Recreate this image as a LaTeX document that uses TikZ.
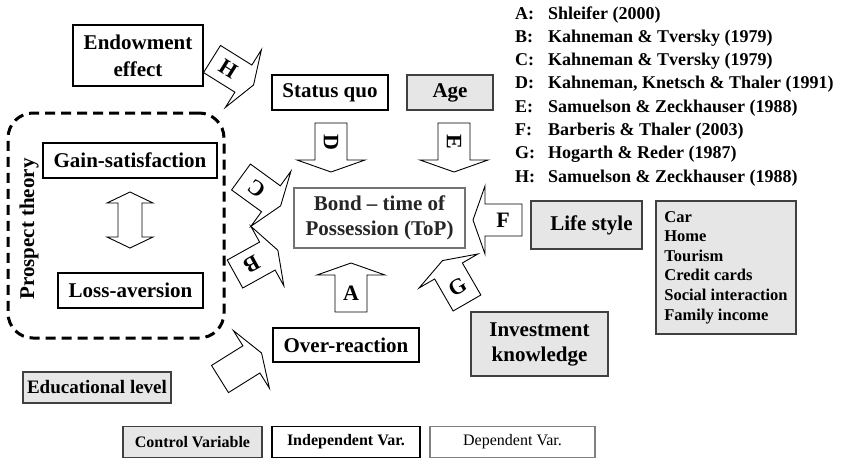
\documentclass[tikz,border=0pt]{standalone}
\usepackage{fontspec}
\setmainfont{Liberation Serif}
\definecolor{ctrlgray}{HTML}{E6E6E6}
\tikzset{
  lbl/.style={font=\fontsize{21}{25}\selectfont\bfseries, align=center, inner sep=0pt},
  box/.style={lbl, draw=black, line width=1.1pt, fill=white},
  ctrl/.style={lbl, draw=black!75, line width=1.1pt, fill=ctrlgray},
  depbox/.style={lbl, draw=black!50, line width=1.1pt, fill=white},
  barrowline/.style={draw=black, line width=0.9pt, fill=white, line join=miter},
  barrowlabel/.style={font=\fontsize{22}{22}\selectfont\bfseries, inner sep=0pt},
  cite/.style={anchor=base west, inner sep=0pt, font=\fontsize{18}{18}\selectfont\bfseries},
  legendfont/.style={font=\fontsize{16}{18}\selectfont\bfseries},
}
% block arrow outline: tail centre, direction, name of label coordinate
\newcommand\blockshape[3]{%
  \begin{scope}[shift={#1}, rotate=#2]
    \draw[barrowline] (0,-16) -- (37,-16) -- (37,-34) -- (49,0) -- (37,34) -- (37,16) -- (0,16) -- cycle;
    \coordinate (#3) at (19,0);
  \end{scope}}
% labelled block arrow: name, tail centre, direction, text rotation, label
\newcommand\blockarrow[5]{%
  \blockshape{#2}{#3}{#1c}
  \node[barrowlabel, rotate=#4] (#1) at (#1c) {#5};}
\begin{document}
\begin{tikzpicture}[x=1pt,y=-1pt]
\useasboundingbox (0,0) rectangle (850,472);

% prospect theory group
\node[draw=black, line width=3pt, dash pattern=on 10pt off 6pt, rounded corners=25pt,
      minimum width=216pt, minimum height=225pt, inner sep=0pt] (prospect) at (116,225.5) {};
\node[lbl, rotate=90] (ptlabel) at (29,229) {Prospect theory};
\node[box, minimum width=174pt, minimum height=35pt] (gain) at (130,160.5) {Gain-satisfaction};
\node[box, minimum width=145pt, minimum height=35pt] (loss) at (130.5,290.5) {Loss-aversion};
\draw[barrowline] (118,203) -- (107,203) -- (130,192) -- (153,203) -- (142,203) -- (142,237)
      -- (153,237) -- (130,248) -- (107,237) -- (118,237) -- cycle;

% boxes
\node[box, font=\fontsize{21}{27}\selectfont\bfseries, minimum width=130pt, minimum height=61pt] (endow) at (138,55.5) {Endowment\\effect};
\node[box, minimum width=116pt, minimum height=35pt] (status) at (330,92.5) {Status quo};
\node[ctrl, minimum width=86pt, minimum height=35pt] (age) at (450,92.5) {Age};
\node[lbl, draw=black!55, line width=1.2pt, fill=white, text=black!85, minimum width=171pt, minimum height=60pt] (top) at (379.5,218) {Bond – time of\\Possession (ToP)};
\node[ctrl, minimum width=111pt, minimum height=48pt] (life) at (586.5,225) {\hspace*{10pt}Life style};
\node[ctrl, minimum width=140pt, minimum height=133pt, align=left,
      font=\fontsize{16.5}{19.6}\selectfont\bfseries] (items) at (726,267.5)
      {Car\\Home\\Tourism\\Credit cards\\Social interaction\\Family income};
\node[ctrl, minimum width=137pt, minimum height=64pt] (invest) at (539.5,344) {Investment\\knowledge};
\node[box, minimum width=146pt, minimum height=34pt] (over) at (346,345) {Over-reaction};
\node[ctrl, font=\fontsize{19}{22}\selectfont\bfseries, minimum width=148pt, minimum height=31pt] (edu) at (97,387.5) {Educational level};

% block arrows
\blockarrow{arrH}{(212,59)}{-32}{-32}{H}
\blockarrow{arrD}{(331,123)}{-90}{-90}{D}
\blockarrow{arrE}{(454,123)}{-90}{-90}{E}
\blockarrow{arrC}{(241,177)}{-36}{144}{C}
\blockarrow{arrB}{(235,274)}{29}{-151}{B}
\blockarrow{arrA}{(351,312)}{90}{0}{A}
\blockarrow{arrG}{(467,303)}{120}{30}{G}
\blockarrow{arrF}{(522,220)}{180}{0}{F}
\blockshape{(220,379)}{32}{arrEdu}

% references
\node[cite] (citeA) at (515,19) {\makebox[33pt][l]{A:}Shleifer (2000)};
\node[cite] (citeB) at (515,42.3) {\makebox[33pt][l]{B:}Kahneman \& Tversky (1979)};
\node[cite] (citeC) at (515,65.6) {\makebox[33pt][l]{C:}Kahneman \& Tversky (1979)};
\node[cite] (citeD) at (515,88.9) {\makebox[33pt][l]{D:}Kahneman, Knetsch \& Thaler (1991)};
\node[cite] (citeE) at (515,112.2) {\makebox[33pt][l]{E:}Samuelson \& Zeckhauser (1988)};
\node[cite] (citeF) at (515,135.5) {\makebox[33pt][l]{F:}Barberis \& Thaler (2003)};
\node[cite] (citeG) at (515,158.8) {\makebox[33pt][l]{G:}Hogarth \& Reder (1987)};
\node[cite] (citeH) at (515,182.1) {\makebox[33pt][l]{H:}Samuelson \& Zeckhauser (1988)};

% legend
\node[ctrl, legendfont, minimum width=139pt, minimum height=31pt] (lgctrl) at (192.5,442) {Control Variable};
\node[box, legendfont, minimum width=148pt, minimum height=31pt] (lgind) at (346,442) {Independent Var.};
\node[depbox, font=\fontsize{16}{18}\selectfont, minimum width=165pt, minimum height=31pt] (lgdep) at (512.5,442) {Dependent Var.};
\end{tikzpicture}
\end{document}
